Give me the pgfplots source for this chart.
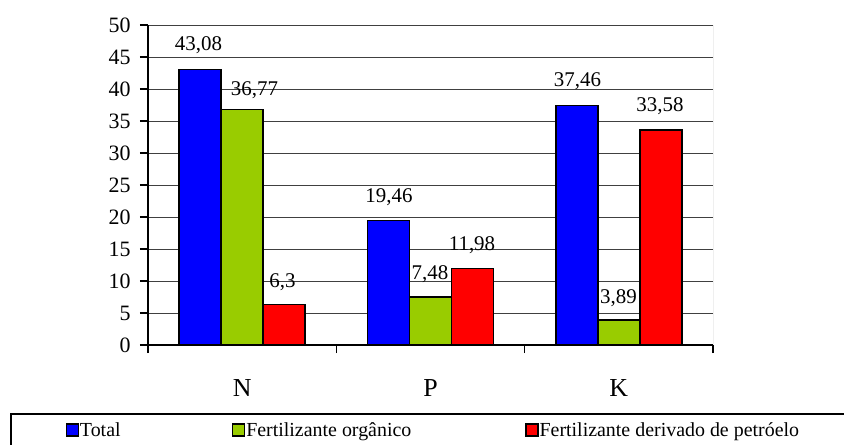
\documentclass[border=0pt]{standalone}
\usepackage{fontspec}
\setmainfont{Liberation Serif}
\usepackage{pgfplots}
\pgfplotsset{compat=1.18}
\definecolor{cblue}{RGB}{0,0,255}
\definecolor{cgreen}{RGB}{153,204,0}
\definecolor{cred}{RGB}{255,0,0}
\begin{document}
\begin{tikzpicture}
\useasboundingbox (0,0) rectangle (844bp,445bp);
\begin{axis}[
  at={(148bp,100bp)}, anchor=south west,
  scale only axis, width=565bp, height=320bp,
  ybar=0pt, bar width=42bp,
  xmin=-0.5, xmax=2.5, ymin=0, ymax=50,
  ytick={0,5,...,50},
  xtick={-0.5,0.5,1.5,2.5}, xticklabels={,,,},
  extra x ticks={0,1,2}, extra x tick labels={N,P,K},
  extra x tick style={major tick length=0pt, grid=none},
  xticklabel style={font=\fontsize{26}{26}\selectfont, yshift=-31bp},
  yticklabel style={font=\fontsize{22}{22}\selectfont, xshift=-6bp},
  /pgf/number format/assume math mode=true,
  axis x line*=bottom, axis y line*=left,
  axis line style={black, line width=1.5bp},
  tick align=outside, major tick length=8bp,
  tick style={black, line width=1.3bp},
  ymajorgrids, major grid style={black!75, line width=0.8bp},
  legend columns=3,
  legend cell align=left,
  legend style={at={(-0.1457,-0.2656)}, anchor=west, draw=none, fill=none,
    inner sep=0pt, outer sep=0pt,
    font=\fontsize{20}{20}\selectfont,
    nodes={inner sep=1bp},
    /tikz/every odd column/.append style={column sep=0bp}},
  legend image code/.code={\draw[#1, line width=1.3bp] (0bp,-6bp) rectangle (12bp,6bp);},
]
\addplot[fill=cblue, draw=black, line width=1.4bp] coordinates {(0,43.08) (1,19.46) (2,37.46)};
\addplot[fill=cgreen, draw=black, line width=1.4bp] coordinates {(0,36.77) (1,7.48) (2,3.89)};
\addplot[fill=cred, draw=black, line width=1.4bp] coordinates {(0,6.3) (1,11.98) (2,33.58)};
\addlegendentry{\makebox[151bp][l]{Total}}
\addlegendentry{\makebox[278bp][l]{Fertilizante orgânico}}
\addlegendentry{Fertilizante derivado de petróelo}
\draw[gray, line width=1bp] (rel axis cs:1,0) -- (rel axis cs:1,1);
\begin{scope}[every node/.style={font=\fontsize{21}{21}\selectfont, inner sep=0pt}]
\node at (axis cs:-0.2319,46.88) {43,08};
\node at (axis cs:0.0655,39.84) {36,77};
\node at (axis cs:0.2142,9.77) {6,3};
\node at (axis cs:0.7797,23.05) {19,46};
\node at (axis cs:0.9974,11.09) {7,48};
\node at (axis cs:1.2204,15.55) {11,98};
\node at (axis cs:1.7806,41.17) {37,46};
\node at (axis cs:1.998,7.34) {3,89};
\node at (axis cs:2.2187,37.27) {33,58};
\end{scope}
\end{axis}
\draw[black, line width=1.5bp] (11bp,-2bp) -- (11bp,31bp) -- (850bp,31bp);
\end{tikzpicture}
\end{document}
